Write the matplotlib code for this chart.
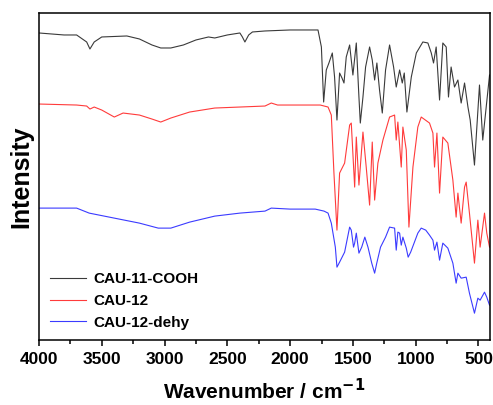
import matplotlib
matplotlib.use("Agg")
import matplotlib.pyplot as plt
from matplotlib.ticker import MultipleLocator

plt.rcParams["font.family"] = ["Liberation Sans", "DejaVu Sans"]
plt.rcParams["font.weight"] = "bold"
plt.rcParams["mathtext.default"] = "bf"

# spectra (wavenumber in cm-1, intensity in arbitrary units)
cooh_wn = [4000, 3800, 3700, 3620, 3594, 3560, 3500, 3300, 3200, 3100, 3030, 2950,
           2850, 2750, 2650, 2600, 2500, 2400, 2380, 2360, 2330, 2300, 2200, 2000,
           1800, 1778, 1751, 1733, 1712, 1691, 1664, 1646, 1627, 1606, 1587, 1571,
           1553, 1526, 1500, 1473, 1452, 1441, 1420, 1399, 1367, 1346, 1327, 1309,
           1288, 1266, 1240, 1208, 1176, 1155, 1128, 1107, 1091, 1070, 1035, 995,
           943, 903, 876, 858, 837, 810, 784, 757, 739, 718, 691, 664, 638, 611,
           584, 566, 532, 492, 466, 412]
cooh_int = [307, 305, 305, 298, 291, 298, 303, 304, 301, 295, 292, 292,
            295, 300, 303, 302, 305, 307, 303, 298, 305, 308, 309, 310,
            310, 310, 293, 238, 270, 277, 287, 263, 220, 267, 262, 257,
            283, 295, 265, 297, 243, 217, 243, 273, 293, 280, 260, 277,
            250, 227, 270, 295, 273, 253, 270, 257, 267, 228, 263, 287,
            298, 297, 287, 277, 293, 240, 297, 293, 243, 273, 253, 260, 237, 257,
            233, 220, 175, 255, 200, 265]

cau12_wn = [4000, 3700, 3620, 3594, 3560, 3500, 3400, 3330, 3200, 3100, 3030, 2950,
            2800, 2600, 2400, 2200, 2150, 2100, 1900, 1760, 1698, 1672, 1651, 1627,
            1606, 1566, 1526, 1513, 1486, 1473, 1452, 1420, 1394, 1367, 1346, 1327,
            1301, 1261, 1208, 1168, 1155, 1142, 1115, 1102, 1075, 1054, 1022, 983,
            956, 890, 863, 850, 831, 810, 784, 744, 704, 678, 664, 638, 611, 598,
            572, 532, 505, 487, 452, 434, 412]
cau12_int = [236, 235, 234, 231, 233, 230, 223, 227, 225, 221, 218, 222,
             228, 232, 233, 234, 237, 235, 235, 235, 233, 225, 167, 110,
             167, 177, 215, 217, 153, 203, 155, 208, 173, 135, 198, 140,
             177, 200, 223, 225, 200, 218, 173, 213, 190, 113, 173, 213,
             223, 217, 207, 173, 207, 147, 203, 197, 160, 123, 147, 117, 153, 158,
             127, 77, 120, 93, 127, 107, 93]

dehy_wn = [4000, 3700, 3600, 3400, 3200, 3050, 2950, 2800, 2600, 2400, 2200, 2150,
           2000, 1800, 1730, 1698, 1672, 1640, 1627, 1606, 1566, 1526, 1513, 1495,
           1486, 1473, 1452, 1430, 1405, 1380, 1350, 1327, 1310, 1280, 1240, 1208,
           1168, 1155, 1142, 1128, 1115, 1102, 1075, 1060, 1040, 983, 956, 920,
           890, 863, 850, 831, 810, 784, 744, 704, 678, 664, 638, 598, 572, 532,
           505, 487, 452, 434, 412]
dehy_int = [132, 132, 127, 122, 117, 112, 112, 118, 124, 127, 129, 132,
            131, 131, 129, 127, 117, 93, 73, 78, 88, 113, 110, 93,
            97, 107, 87, 93, 103, 93, 77, 67, 77, 93, 103, 113,
            112, 90, 108, 107, 95, 103, 92, 83, 88, 107, 112, 110,
            105, 100, 90, 98, 80, 97, 92, 77, 57, 67, 62, 63, 47, 27,
            42, 40, 48, 43, 35]

labels = ["CAU-11-COOH", "CAU-12", "CAU-12-dehy"]
colors = ["#3a3a3a", "#ff3b3b", "#3b3bff"]

fig = plt.figure(figsize=(4.93, 4.05), dpi=100)
ax = fig.add_axes([0.079, 0.160, 0.915, 0.808])

for wn, inten, lab, col in zip([cooh_wn, cau12_wn, dehy_wn],
                               [cooh_int, cau12_int, dehy_int], labels, colors):
    ax.plot(wn, inten, color=col, lw=0.8, label=lab)

ax.set_xlim(4000, 408)
ax.set_ylim(0, 327)
ax.xaxis.set_major_locator(MultipleLocator(500))
ax.xaxis.set_minor_locator(MultipleLocator(250))
ax.set_yticks([])
ax.tick_params(axis="x", which="major", direction="out", length=4.5, width=1.1,
               labelsize=12.5, pad=4)
ax.tick_params(axis="x", which="minor", direction="out", length=3, width=1.1)
for s in ax.spines.values():
    s.set_linewidth(1.1)

ax.set_xlabel("Wavenumber / cm$^{-1}$", fontsize=15, fontweight="bold", labelpad=8)
ax.set_ylabel("Intensity", fontsize=18, fontweight="bold", labelpad=4)

ax.legend(loc="lower left", frameon=False, fontsize=11, handlelength=2.4,
          handletextpad=0.45, labelspacing=0.5, borderaxespad=0.3,
          bbox_to_anchor=(0.0, 0.0))

fig.savefig("out.png", dpi=100)
